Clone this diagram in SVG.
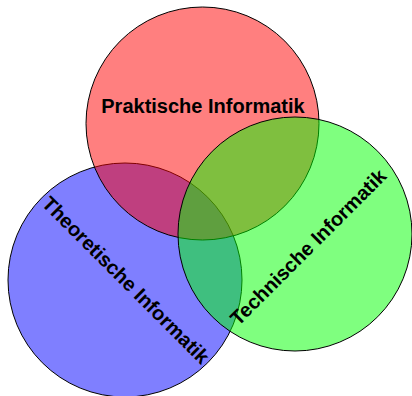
<svg xmlns="http://www.w3.org/2000/svg" width="412" height="396" viewBox="0 0 412 396">
<style>
.c{stroke:#000;stroke-width:1;fill-opacity:0.5}
.t{font-family:"Liberation Sans",Arial,sans-serif;font-weight:bold;font-size:20px;text-anchor:middle;fill:#000}
</style>
<rect width="412" height="396" fill="#fff"/>
<g id="theoretische">
<circle class="c" cx="125" cy="280" r="117" fill="#0000ff"/>
</g>
<g id="praktische">
<circle class="c" cx="202.5" cy="123.5" r="116.5" fill="#ff0000"/>
</g>
<g id="technische">
<circle class="c" cx="295" cy="234" r="117" fill="#00ff00"/>
</g>
<g id="labels">
<text class="t" x="203" y="113">Praktische Informatik</text>
<text class="t" transform="translate(121,285) rotate(45)">Theoretische Informatik</text>
<text class="t" transform="translate(313,252) rotate(-45)">Technische Informatik</text>
</g>
</svg>
